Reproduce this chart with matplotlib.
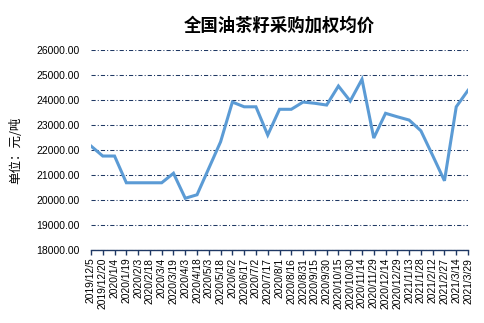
import matplotlib.pyplot as plt

# 采购日期（每15天一期）
dates = ['2019/12/5', '2019/12/20', '2020/1/4', '2020/1/19', '2020/2/3', '2020/2/18',
         '2020/3/4', '2020/3/19', '2020/4/3', '2020/4/18', '2020/5/3', '2020/5/18',
         '2020/6/2', '2020/6/17', '2020/7/2', '2020/7/17', '2020/8/1', '2020/8/16',
         '2020/8/31', '2020/9/15', '2020/9/30', '2020/10/15', '2020/10/30', '2020/11/14',
         '2020/11/29', '2020/12/14', '2020/12/29', '2021/1/13', '2021/1/28', '2021/2/12',
         '2021/2/27', '2021/3/14', '2021/3/29']

# 加权均价，元/吨
prices = [22160, 21760, 21760, 20690, 20690, 20690, 20690, 21070, 20070, 20210,
          21270, 22330, 23920, 23730, 23730, 22600, 23630, 23630, 23920, 23870,
          23800, 24560, 23960, 24830, 22480, 23470, 23330, 23200, 22770, 21780,
          20770, 23730, 24390]

y_ticks = [18000, 19000, 20000, 21000, 22000, 23000, 24000, 25000, 26000]

navy = '#1F3864'
cjk = ['Noto Sans CJK SC', 'DejaVu Sans']

fig = plt.figure(figsize=(4.84, 3.23), dpi=100)
ax = fig.add_axes([0.188, 0.226, 0.779, 0.619])

x = list(range(len(dates)))
ax.plot(x, prices, color='#5B9BD5', linewidth=2.2, solid_joinstyle='miter', zorder=3)

ax.set_xlim(0, len(dates) - 1)
ax.set_ylim(18000, 26000)
ax.set_yticks(y_ticks)
ax.set_yticklabels([f'{v:.2f}' for v in y_ticks], family='Liberation Sans', fontsize=7.5)
ax.set_xticks(x)
ax.set_xticklabels(dates, rotation=90, family='Liberation Sans', fontsize=7.4)

# 点划线网格
ax.grid(axis='y', color=navy, linewidth=0.75, linestyle=(0, (4, 2, 1, 2)))
ax.set_axisbelow(True)

for side in ['top', 'right', 'left']:
    ax.spines[side].set_visible(False)
ax.spines['bottom'].set_color(navy)
ax.spines['bottom'].set_linewidth(1.0)
ax.tick_params(axis='y', length=0, pad=8)
ax.tick_params(axis='x', length=3.5, color=navy, width=1.0, pad=2)

ax.set_title('全国油茶籽采购加权均价', family=cjk, fontsize=12.5, fontweight='bold', pad=14)
ax.set_ylabel('单位：元/吨', family=cjk, fontsize=9, labelpad=10)

fig.savefig('out.png', dpi=100)
